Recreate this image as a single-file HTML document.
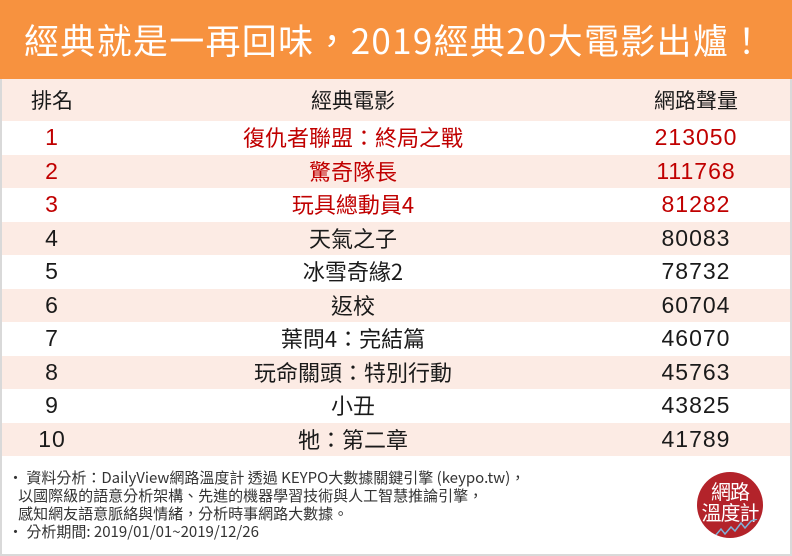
<!DOCTYPE html>
<html><head><meta charset="utf-8">
<style>
*{margin:0;padding:0;box-sizing:border-box}
body{width:792px;height:556px;background:#fff;font-family:"Liberation Sans","Noto Sans CJK TC",sans-serif;position:relative;overflow:hidden}
#frame{position:absolute;left:0;top:0;width:792px;height:556px;border:2px solid #d9d9d9;border-top:none}
#title{position:absolute;left:0;top:0;width:792px;height:79px;background:#f7923f;color:#fff;font-size:35px;line-height:79px;padding-left:24px;letter-spacing:1.3px;font-family:"Noto Sans CJK TC","Liberation Sans",sans-serif;white-space:nowrap}
.row{position:absolute;left:2px;width:788px;height:33.5px;font-size:22px;line-height:33.5px;color:#1a1a1a;font-family:"Noto Sans CJK TC","Liberation Sans",sans-serif}
.row div{position:absolute;top:0;text-align:center;white-space:nowrap}
.c1{left:0;width:100px}
.c2{left:201px;width:300px}
.c3{left:619px;width:150px}
.num{font-family:"Liberation Sans",sans-serif;font-size:23px;letter-spacing:1px}
.pink{background:#fcebe4}
.red{color:#c00000}
#hdr{top:79px;height:42px;line-height:42px;font-size:21px}
#notes{position:absolute;left:8px;top:469px;font-size:15px;line-height:18px;color:#333;font-family:"Noto Sans CJK TC","Liberation Sans",sans-serif;white-space:nowrap}
#logo{position:absolute;left:697px;top:472px;width:66px;height:66px;border-radius:50%;background:#b3232a;color:#fff;font-size:20px;line-height:21px;text-align:center;padding-top:8px;font-family:"Noto Sans CJK TC",sans-serif;overflow:hidden;white-space:nowrap;letter-spacing:-1px}
</style></head><body>
<div id="frame"></div>
<div id="title">經典就是一再回味，2019經典20大電影出爐！</div>
<div class="row pink" id="hdr">
<div class="c1">排名</div>
<div class="c2">經典電影</div>
<div class="c3">網路聲量</div>
</div>
<div id="rows"></div>
<div id="notes">
‧ 資料分析：DailyView網路溫度計 透過 KEYPO大數據關鍵引擎 (keypo.tw)，<br>
&nbsp;&nbsp;&nbsp;以國際級的語意分析架構、先進的機器學習技術與人工智慧推論引擎，<br>
&nbsp;&nbsp;&nbsp;感知網友語意脈絡與情緒，分析時事網路大數據。<br>
‧ 分析期間: 2019/01/01~2019/12/26
</div>
<div id="logo">網路<br>溫度計
<svg width="66" height="20" style="position:absolute;left:0;top:47px"><polyline points="8,18 14,14 18,17 24,10 28,15 34,8 38,12 44,4 48,9 54,2 60,0" fill="none" stroke="#7fb3d9" stroke-width="1.5"/></svg>
</div>
<script>
const ranks=[1,2,3,4,5,6,7,8,9,10];
const titles=["復仇者聯盟：終局之戰","驚奇隊長","玩具總動員4","天氣之子","冰雪奇緣2","返校","葉問4：完結篇","玩命關頭：特別行動","小丑","牠：第二章"];
const volumes=[213050,111768,81282,80083,78732,60704,46070,45763,43825,41789];
const highlight=[true,true,true,false,false,false,false,false,false,false];
const cont=document.getElementById('rows');
for(let i=0;i<ranks.length;i++){
  const r=document.createElement('div');
  
  
  r.className='row'+(i%2===1?' pink':'')+(highlight[i]?' red':'');
  r.style.top=(121+i*33.5)+'px';
  const a=document.createElement('div');a.className='c1 num';a.textContent=ranks[i];
  
  
  const b=document.createElement('div');b.className='c2';b.textContent=titles[i];
  
  
  const c=document.createElement('div');c.className='c3 num';c.textContent=volumes[i];
  
  
  r.appendChild(a);r.appendChild(b);r.appendChild(c);
  cont.appendChild(r);
}
</script>
</body></html>
